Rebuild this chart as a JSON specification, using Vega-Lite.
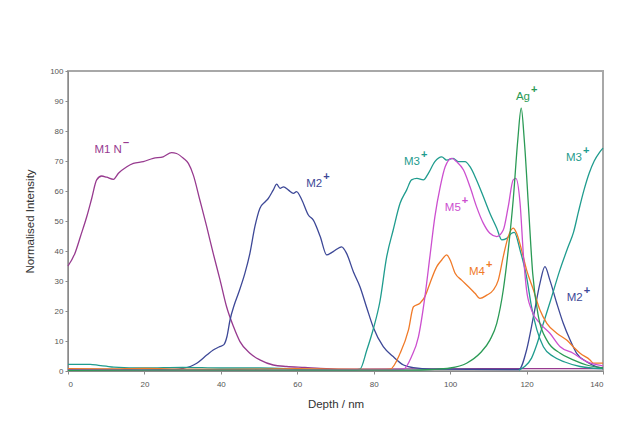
{
  "$schema": "https://vega.github.io/schema/vega-lite/v6.json",
  "width": 535,
  "height": 300,
  "autosize": {"type": "none"},
  "padding": {"left": 68, "top": 71, "right": 20, "bottom": 77},
  "background": "white",
  "config": {
    "view": {"stroke": "#a8a8a8", "strokeWidth": 2},
    "font": "Liberation Sans",
    "axis": {
      "grid": false,
      "domainColor": "#8a8a8a",
      "tickColor": "#8a8a8a",
      "tickSize": 3,
      "labelColor": "#555555",
      "labelFontSize": 8,
      "labelOverlap": false,
      "labelFont": "Liberation Sans",
      "titleFont": "Liberation Sans",
      "titleFontSize": 11.5,
      "titleFontWeight": "normal",
      "titleColor": "#333333"
    }
  },
  "datasets": {
    "lines": [
      {"s":"M1N-","g":"a","x":0,"y":35},{"s":"M1N-","g":"a","x":1.8,"y":39.2},{"s":"M1N-","g":"a","x":3.3,"y":45},{"s":"M1N-","g":"a","x":4.9,"y":51.4},{"s":"M1N-","g":"a","x":6.2,"y":57.5},{"s":"M1N-","g":"a","x":7.5,"y":63.7},{"s":"M1N-","g":"a","x":8.8,"y":65},{"s":"M1N-","g":"a","x":10.1,"y":64.6},{"s":"M1N-","g":"a","x":11.9,"y":63.9},{"s":"M1N-","g":"a","x":13.2,"y":65.9},{"s":"M1N-","g":"a","x":15.4,"y":68.1},{"s":"M1N-","g":"a","x":17.1,"y":69.2},{"s":"M1N-","g":"a","x":19.7,"y":69.8},{"s":"M1N-","g":"a","x":22.3,"y":70.9},{"s":"M1N-","g":"a","x":24.9,"y":71.4},{"s":"M1N-","g":"a","x":27.1,"y":72.8},{"s":"M1N-","g":"a","x":28.4,"y":72.5},{"s":"M1N-","g":"a","x":30.2,"y":70.9},{"s":"M1N-","g":"a","x":31.5,"y":69.2},{"s":"M1N-","g":"a","x":32.8,"y":65.3},{"s":"M1N-","g":"a","x":34.5,"y":57},{"s":"M1N-","g":"a","x":36.3,"y":48.1},{"s":"M1N-","g":"a","x":38,"y":39.2},{"s":"M1N-","g":"a","x":39.8,"y":30.3},{"s":"M1N-","g":"a","x":41.5,"y":21.4},{"s":"M1N-","g":"a","x":43.3,"y":14.8},{"s":"M1N-","g":"a","x":45,"y":9.8},{"s":"M1N-","g":"a","x":47.6,"y":5.9},{"s":"M1N-","g":"a","x":50.2,"y":3.7},{"s":"M1N-","g":"a","x":53.7,"y":2},{"s":"M1N-","g":"a","x":57.2,"y":1.5},{"s":"M1N-","g":"a","x":62,"y":1.2},{"s":"M1N-","g":"a","x":66,"y":0.9},{"s":"M1N-","g":"a","x":75,"y":0.6},{"s":"M1N-","g":"a","x":90,"y":0.7},{"s":"M1N-","g":"a","x":110,"y":0.8},{"s":"M1N-","g":"a","x":140,"y":0.8},

      {"s":"M2+","g":"a","x":0,"y":0.5},{"s":"M2+","g":"a","x":10,"y":0.5},{"s":"M2+","g":"a","x":20,"y":0.4},{"s":"M2+","g":"a","x":28,"y":0.5},{"s":"M2+","g":"a","x":30.2,"y":0.9},{"s":"M2+","g":"a","x":32,"y":1.5},{"s":"M2+","g":"a","x":33.7,"y":2.6},{"s":"M2+","g":"a","x":36.3,"y":5.3},{"s":"M2+","g":"a","x":38,"y":7},{"s":"M2+","g":"a","x":39.5,"y":8},{"s":"M2+","g":"a","x":40.8,"y":8.8},{"s":"M2+","g":"a","x":41.6,"y":11.5},{"s":"M2+","g":"a","x":42.4,"y":17},{"s":"M2+","g":"a","x":43.5,"y":22},{"s":"M2+","g":"a","x":44.6,"y":25.9},{"s":"M2+","g":"a","x":46.3,"y":32.6},{"s":"M2+","g":"a","x":47.6,"y":39.2},{"s":"M2+","g":"a","x":48.9,"y":48.1},{"s":"M2+","g":"a","x":50.2,"y":54.2},{"s":"M2+","g":"a","x":51.6,"y":56.4},{"s":"M2+","g":"a","x":52.4,"y":57.5},{"s":"M2+","g":"a","x":53.7,"y":60.3},{"s":"M2+","g":"a","x":54.6,"y":62.3},{"s":"M2+","g":"a","x":55.5,"y":60.9},{"s":"M2+","g":"a","x":56.4,"y":61.4},{"s":"M2+","g":"a","x":57.7,"y":60.3},{"s":"M2+","g":"a","x":59,"y":59.2},{"s":"M2+","g":"a","x":59.8,"y":59.8},{"s":"M2+","g":"a","x":61.2,"y":57},{"s":"M2+","g":"a","x":62.9,"y":52},{"s":"M2+","g":"a","x":64.2,"y":50.3},{"s":"M2+","g":"a","x":66,"y":44.8},{"s":"M2+","g":"a","x":67.7,"y":38.7},{"s":"M2+","g":"a","x":69.4,"y":39.8},{"s":"M2+","g":"a","x":71.6,"y":41.4},{"s":"M2+","g":"a","x":72.9,"y":39.2},{"s":"M2+","g":"a","x":74.7,"y":33},{"s":"M2+","g":"a","x":76.4,"y":28.1},{"s":"M2+","g":"a","x":78.2,"y":21},{"s":"M2+","g":"a","x":79.9,"y":14.5},{"s":"M2+","g":"a","x":82.5,"y":8.1},{"s":"M2+","g":"a","x":85.1,"y":4.8},{"s":"M2+","g":"a","x":87.8,"y":2},{"s":"M2+","g":"a","x":90.4,"y":1.1},{"s":"M2+","g":"a","x":95,"y":0.6},{"s":"M2+","g":"a","x":118,"y":0.5},{"s":"M2+","g":"a","x":120,"y":7},{"s":"M2+","g":"a","x":121.8,"y":18.1},{"s":"M2+","g":"a","x":123.5,"y":29.2},{"s":"M2+","g":"a","x":124.8,"y":34.8},{"s":"M2+","g":"a","x":126.1,"y":30.3},{"s":"M2+","g":"a","x":127.9,"y":22.6},{"s":"M2+","g":"a","x":129.6,"y":15.9},{"s":"M2+","g":"a","x":131.4,"y":10.3},{"s":"M2+","g":"a","x":133.1,"y":5.9},{"s":"M2+","g":"a","x":135.7,"y":3.1},{"s":"M2+","g":"a","x":138.4,"y":1.4},{"s":"M2+","g":"a","x":140,"y":1},

      {"s":"M3+","g":"a","x":0,"y":2.2},{"s":"M3+","g":"a","x":5.8,"y":2.2},{"s":"M3+","g":"a","x":8,"y":1.9},{"s":"M3+","g":"a","x":10,"y":1.6},{"s":"M3+","g":"a","x":12,"y":1.3},{"s":"M3+","g":"a","x":20,"y":1},{"s":"M3+","g":"a","x":30,"y":1.2},{"s":"M3+","g":"a","x":40,"y":1},{"s":"M3+","g":"a","x":50,"y":1},{"s":"M3+","g":"a","x":57,"y":0.8},{"s":"M3+","g":"a","x":60,"y":0.5},{"s":"M3+","g":"a","x":75,"y":0.4},{"s":"M3+","g":"a","x":76.4,"y":0.6},{"s":"M3+","g":"a","x":78.2,"y":7},{"s":"M3+","g":"a","x":80,"y":14.5},{"s":"M3+","g":"a","x":81.6,"y":23},{"s":"M3+","g":"a","x":83.4,"y":38.1},{"s":"M3+","g":"a","x":85.1,"y":47},{"s":"M3+","g":"a","x":86.9,"y":55.9},{"s":"M3+","g":"a","x":88.6,"y":60.3},{"s":"M3+","g":"a","x":89.9,"y":63.7},{"s":"M3+","g":"a","x":91.3,"y":64.2},{"s":"M3+","g":"a","x":93,"y":63.7},{"s":"M3+","g":"a","x":94.3,"y":65.9},{"s":"M3+","g":"a","x":96,"y":69.8},{"s":"M3+","g":"a","x":97.8,"y":71.4},{"s":"M3+","g":"a","x":99.1,"y":70.3},{"s":"M3+","g":"a","x":100.8,"y":70.9},{"s":"M3+","g":"a","x":102.1,"y":69.8},{"s":"M3+","g":"a","x":103.9,"y":69.8},{"s":"M3+","g":"a","x":105.2,"y":68.1},{"s":"M3+","g":"a","x":106.9,"y":63.7},{"s":"M3+","g":"a","x":108.7,"y":58.1},{"s":"M3+","g":"a","x":110.4,"y":52.6},{"s":"M3+","g":"a","x":112.2,"y":47.6},{"s":"M3+","g":"a","x":113.5,"y":43.7},{"s":"M3+","g":"a","x":114.8,"y":44.2},{"s":"M3+","g":"a","x":116.1,"y":45.9},{"s":"M3+","g":"a","x":116.8,"y":46.2},{"s":"M3+","g":"a","x":118.3,"y":40.3},{"s":"M3+","g":"a","x":120,"y":31.4},{"s":"M3+","g":"a","x":121.3,"y":21.4},{"s":"M3+","g":"a","x":122.7,"y":13.7},{"s":"M3+","g":"a","x":124.4,"y":8.1},{"s":"M3+","g":"a","x":127,"y":4.8},{"s":"M3+","g":"a","x":130,"y":3},{"s":"M3+","g":"a","x":134,"y":1.5},{"s":"M3+","g":"a","x":137,"y":1},{"s":"M3+","g":"a","x":140,"y":0.8},

      {"s":"M3+","g":"b","x":118,"y":0.3},{"s":"M3+","g":"b","x":119.5,"y":1.5},{"s":"M3+","g":"b","x":121.3,"y":4.3},{"s":"M3+","g":"b","x":122.7,"y":8.9},{"s":"M3+","g":"b","x":124.1,"y":14.7},{"s":"M3+","g":"b","x":126.4,"y":24},{"s":"M3+","g":"b","x":128.6,"y":33.2},{"s":"M3+","g":"b","x":130.9,"y":41.5},{"s":"M3+","g":"b","x":132.3,"y":46.3},{"s":"M3+","g":"b","x":133.6,"y":53.2},{"s":"M3+","g":"b","x":135,"y":60.2},{"s":"M3+","g":"b","x":136.4,"y":66},{"s":"M3+","g":"b","x":137.7,"y":70},{"s":"M3+","g":"b","x":139.1,"y":72.9},{"s":"M3+","g":"b","x":140,"y":74.3},

      {"s":"M4+","g":"a","x":0,"y":0.8},{"s":"M4+","g":"a","x":10,"y":0.7},{"s":"M4+","g":"a","x":20,"y":0.9},{"s":"M4+","g":"a","x":30,"y":0.6},{"s":"M4+","g":"a","x":40,"y":0.5},{"s":"M4+","g":"a","x":50,"y":0.6},{"s":"M4+","g":"a","x":60,"y":0.8},{"s":"M4+","g":"a","x":70,"y":0.6},{"s":"M4+","g":"a","x":82,"y":0.5},{"s":"M4+","g":"a","x":84.3,"y":0.6},{"s":"M4+","g":"a","x":86.9,"y":5.9},{"s":"M4+","g":"a","x":89.1,"y":13.7},{"s":"M4+","g":"a","x":90.4,"y":21.4},{"s":"M4+","g":"a","x":92.1,"y":22.6},{"s":"M4+","g":"a","x":93.4,"y":24.8},{"s":"M4+","g":"a","x":94.7,"y":29.2},{"s":"M4+","g":"a","x":96.5,"y":34.8},{"s":"M4+","g":"a","x":97.8,"y":37},{"s":"M4+","g":"a","x":99.1,"y":38.7},{"s":"M4+","g":"a","x":100,"y":37},{"s":"M4+","g":"a","x":101.3,"y":32.6},{"s":"M4+","g":"a","x":103,"y":30.3},{"s":"M4+","g":"a","x":104.8,"y":28.1},{"s":"M4+","g":"a","x":106.5,"y":25.9},{"s":"M4+","g":"a","x":107.8,"y":24.2},{"s":"M4+","g":"a","x":109.6,"y":25.3},{"s":"M4+","g":"a","x":111.3,"y":27},{"s":"M4+","g":"a","x":112.6,"y":30.3},{"s":"M4+","g":"a","x":113.9,"y":38.1},{"s":"M4+","g":"a","x":115.2,"y":44.8},{"s":"M4+","g":"a","x":116.5,"y":47.6},{"s":"M4+","g":"a","x":117.4,"y":45.9},{"s":"M4+","g":"a","x":118.7,"y":40.3},{"s":"M4+","g":"a","x":120,"y":33.7},{"s":"M4+","g":"a","x":121.8,"y":27},{"s":"M4+","g":"a","x":123.5,"y":20.3},{"s":"M4+","g":"a","x":125.3,"y":15.9},{"s":"M4+","g":"a","x":127.9,"y":12.6},{"s":"M4+","g":"a","x":130.5,"y":10.3},{"s":"M4+","g":"a","x":132.2,"y":8.1},{"s":"M4+","g":"a","x":134,"y":5.9},{"s":"M4+","g":"a","x":136.6,"y":3.7},{"s":"M4+","g":"a","x":137.5,"y":2.6},{"s":"M4+","g":"a","x":140,"y":2.6},

      {"s":"M5+","g":"a","x":0,"y":0.3},{"s":"M5+","g":"a","x":40,"y":0.3},{"s":"M5+","g":"a","x":85,"y":0.4},{"s":"M5+","g":"a","x":87.8,"y":0.6},{"s":"M5+","g":"a","x":89.9,"y":4.8},{"s":"M5+","g":"a","x":91.7,"y":11.4},{"s":"M5+","g":"a","x":93.4,"y":24.8},{"s":"M5+","g":"a","x":94.7,"y":38.1},{"s":"M5+","g":"a","x":96,"y":51.4},{"s":"M5+","g":"a","x":97.4,"y":61.4},{"s":"M5+","g":"a","x":98.7,"y":68.1},{"s":"M5+","g":"a","x":100.4,"y":70.9},{"s":"M5+","g":"a","x":101.7,"y":69.8},{"s":"M5+","g":"a","x":103.5,"y":67},{"s":"M5+","g":"a","x":105.2,"y":61.4},{"s":"M5+","g":"a","x":106.9,"y":54.8},{"s":"M5+","g":"a","x":108.7,"y":49.2},{"s":"M5+","g":"a","x":110.4,"y":45.9},{"s":"M5+","g":"a","x":112.2,"y":44.8},{"s":"M5+","g":"a","x":113.9,"y":47},{"s":"M5+","g":"a","x":115.2,"y":54.8},{"s":"M5+","g":"a","x":116.5,"y":63.7},{"s":"M5+","g":"a","x":117.2,"y":64.2},{"s":"M5+","g":"a","x":118.3,"y":55.9},{"s":"M5+","g":"a","x":119.2,"y":38.1},{"s":"M5+","g":"a","x":120,"y":27},{"s":"M5+","g":"a","x":121.3,"y":20.3},{"s":"M5+","g":"a","x":123.5,"y":15.9},{"s":"M5+","g":"a","x":126.1,"y":12.6},{"s":"M5+","g":"a","x":128.8,"y":8.1},{"s":"M5+","g":"a","x":132.2,"y":5.9},{"s":"M5+","g":"a","x":135.7,"y":3.1},{"s":"M5+","g":"a","x":140,"y":1.7},

      {"s":"Ag+","g":"a","x":0,"y":0.2},{"s":"Ag+","g":"a","x":50,"y":0.3},{"s":"Ag+","g":"a","x":90,"y":0.3},{"s":"Ag+","g":"a","x":95,"y":0.5},{"s":"Ag+","g":"a","x":100,"y":1},{"s":"Ag+","g":"a","x":104.3,"y":2.6},{"s":"Ag+","g":"a","x":107.8,"y":5.9},{"s":"Ag+","g":"a","x":110.4,"y":10.3},{"s":"Ag+","g":"a","x":112.2,"y":15.9},{"s":"Ag+","g":"a","x":113.9,"y":27},{"s":"Ag+","g":"a","x":115.2,"y":40.3},{"s":"Ag+","g":"a","x":116.5,"y":57},{"s":"Ag+","g":"a","x":117.7,"y":77},{"s":"Ag+","g":"a","x":118.6,"y":87.6},{"s":"Ag+","g":"a","x":119.4,"y":77},{"s":"Ag+","g":"a","x":120.5,"y":54.8},{"s":"Ag+","g":"a","x":121.6,"y":32.6},{"s":"Ag+","g":"a","x":123.1,"y":18.1},{"s":"Ag+","g":"a","x":125.3,"y":10.3},{"s":"Ag+","g":"a","x":128.8,"y":5.9},{"s":"Ag+","g":"a","x":132.2,"y":3.7},{"s":"Ag+","g":"a","x":135.7,"y":2},{"s":"Ag+","g":"a","x":140,"y":1}
    ],
    "labels": [
      {"s":"M1N-","x":14.1,"y":73.7,"t":"M1 N","sup":"–"},
      {"s":"M2+","x":66.5,"y":62.3,"t":"M2","sup":"+"},
      {"s":"M3+","x":92.1,"y":69.7,"t":"M3","sup":"+"},
      {"s":"M5+","x":102.8,"y":54.3,"t":"M5","sup":"+"},
      {"s":"M4+","x":109.1,"y":33,"t":"M4","sup":"+"},
      {"s":"Ag+","x":120.9,"y":91.3,"t":"Ag","sup":"+"},
      {"s":"M3+","x":134.5,"y":71,"t":"M3","sup":"+"},
      {"s":"M2+","x":134.7,"y":24.3,"t":"M2","sup":"+"}
    ]
  },
  "layer": [
    {
      "data": {"name": "lines"},
      "mark": {"type": "line", "strokeWidth": 1.3, "interpolate": "monotone"},
      "encoding": {
        "x": {"field": "x", "type": "quantitative", "scale": {"domain": [0, 140]}, "axis": {"values": [0,20,40,60,80,100,120,140], "title": "Depth / nm", "titlePadding": 10, "labelPadding": 6, "labelOverlap": false}},
        "y": {"field": "y", "type": "quantitative", "scale": {"domain": [0, 100]}, "axis": {"values": [0,10,20,30,40,50,60,70,80,90,100], "labelOverlap": false, "labelFlush": false, "title": "Normalised Intensity", "titlePadding": 14}},
        "color": {"field": "s", "type": "nominal", "legend": null, "scale": {"domain": ["M1N-","M2+","M3+","M4+","M5+","Ag+"], "range": ["#973a8f","#3d4897","#1f9c8e","#f07a28","#cc4fcf","#2a9a55"]}},
        "detail": {"field": "g"}
      }
    },
    {
      "data": {"name": "labels"},
      "mark": {"type": "text", "fontSize": 11.5, "font": "Liberation Sans", "align": "right", "baseline": "middle"},
      "encoding": {
        "x": {"field": "x", "type": "quantitative", "axis": {"values": [0,20,40,60,80,100,120,140], "title": "Depth / nm", "titlePadding": 10, "labelPadding": 6, "labelOverlap": false}},
        "y": {"field": "y", "type": "quantitative", "axis": {"values": [0,10,20,30,40,50,60,70,80,90,100], "labelOverlap": false, "labelFlush": false, "title": "Normalised Intensity", "titlePadding": 14}},
        "text": {"field": "t"},
        "color": {"field": "s", "type": "nominal", "legend": null}
      }
    },
    {
      "data": {"name": "labels"},
      "mark": {"type": "text", "fontSize": 11, "fontWeight": "bold", "font": "Liberation Sans", "align": "left", "baseline": "middle", "dx": 1, "dy": -7},
      "encoding": {
        "x": {"field": "x", "type": "quantitative", "axis": {"values": [0,20,40,60,80,100,120,140], "title": "Depth / nm", "titlePadding": 10, "labelPadding": 6, "labelOverlap": false}},
        "y": {"field": "y", "type": "quantitative", "axis": {"values": [0,10,20,30,40,50,60,70,80,90,100], "labelOverlap": false, "labelFlush": false, "title": "Normalised Intensity", "titlePadding": 14}},
        "text": {"field": "sup"},
        "color": {"field": "s", "type": "nominal", "legend": null}
      }
    }
  ]
}
